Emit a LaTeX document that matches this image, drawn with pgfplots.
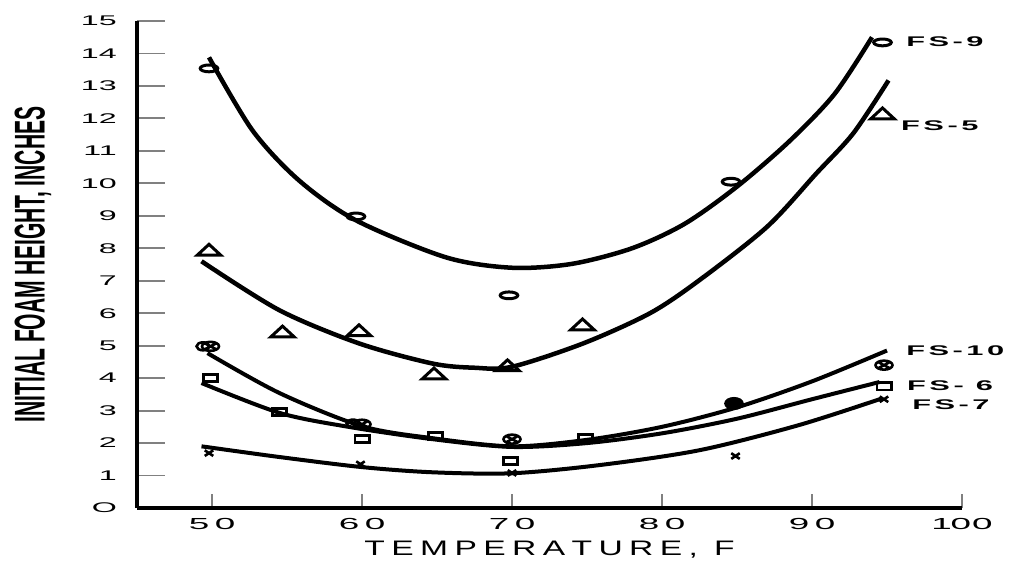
\documentclass[border=0pt]{standalone}
\usepackage{graphicx}
\usepackage{pgfplots}
\pgfplotsset{compat=1.18}
\usepackage{fontspec}
\setmainfont{Liberation Sans}
\usetikzlibrary{plotmarks}
\newcommand\g{\kern4pt}
\newcommand\tk{\kern2.4pt}
\newcommand\fk{\kern1.6pt}
\newcommand\xt[1]{\scalebox{2.3}[1]{\fontsize{16}{16}\selectfont #1}}
\newcommand\yt[1]{\scalebox{2.3}[1]{\fontsize{14}{14}\selectfont #1}}
\newcommand\fs[1]{\scalebox{2.2}[1]{\fontsize{14}{14}\selectfont\bfseries #1}}
\begin{document}
\begin{tikzpicture}
\useasboundingbox (-137pt,-52pt) rectangle (872pt,508pt);
\begin{axis}[
  at={(0,0)}, anchor=south west,
  scale only axis, width=825pt, height=487pt,
  xmin=45, xmax=100, ymin=0, ymax=15,
  axis lines*=left,
  axis line style={-, line width=3.2pt},
  xtick={50,60,70,80,90,100},
  xticklabels={\xt{5\tk0},\xt{6\tk0},\xt{7\tk0},\xt{8\tk0},\xt{9\tk0},\xt{1\kern-0.5pt 0\kern0.5pt 0}},
  ytick={0,1,...,15},
  yticklabels={\yt{O},\yt{1},\yt{2},\yt{3},\yt{4},\yt{5},\yt{6},\yt{7},\yt{8},\yt{9},\yt{10},\yt{11},\yt{12},\yt{13},\yt{14},\yt{15}},
  tick align=inside,
  major tick length=28pt,
  xtick style={line width=1.8pt, /pgfplots/major tick length=14pt},
  ytick style={line width=1.8pt},
  xticklabel style={inner sep=0pt, anchor=north, yshift=-10pt},
  yticklabel style={inner sep=0pt, anchor=east, xshift=-20pt},
  xlabel={\scalebox{1.6}[1]{\fontsize{21}{21}\selectfont T\g E\g M\g P\g E\g R\g A\g T\g U\g R\g E\g,\hspace{10pt}F}},
  ylabel={\scalebox{0.49}[1]{\fontsize{43}{43}\selectfont\bfseries INITIAL FOAM HEIGHT, INCHES}},
  xlabel style={at={(axis description cs:0.5,-0.0862)}, anchor=center, inner sep=0pt},
  ylabel style={at={(axis description cs:-0.126,0.5)}, anchor=center, inner sep=0pt},
  clip=false,
]
% ---- fitted curves ----
% FS-9
\addplot[line width=4.5pt, smooth, no marks] coordinates {
 (49.8,13.88) (52.7,11.63) (55.8,10.09) (59.6,8.86) (65.6,7.72) (70,7.4)
 (74,7.52) (78,8.0) (81.5,8.75) (85,9.9) (88.5,11.3) (91.5,12.75) (94,14.5)};
% FS-5
\addplot[line width=4.5pt, smooth, no marks] coordinates {
 (49.3,7.6) (54.5,6.09) (59.8,5.07) (64.7,4.45) (67.5,4.32) (70,4.35)
 (74.75,5.07) (79.2,6.0) (82.5,7.02) (87,8.66) (90.3,10.31) (92.75,11.54) (95.1,13.17)};
% FS-10
\addplot[line width=4pt, smooth, no marks] coordinates {
 (49.7,4.77) (54.5,3.54) (60,2.52) (64.7,2.15) (70,1.9) (75,2.1)
 (80,2.5) (85,3.1) (90,3.9) (95,4.85)};
% FS-6
\addplot[line width=4pt, smooth, no marks] coordinates {
 (49.3,3.85) (54.5,2.93) (59.1,2.5) (64.7,2.12) (70,1.88) (75,2.0)
 (80,2.3) (85,2.75) (90,3.35) (94.5,3.88)};
% FS-7
\addplot[line width=4pt, smooth, no marks] coordinates {
 (49.3,1.9) (54.5,1.57) (60,1.26) (64.7,1.1) (70,1.07) (75.8,1.32)
 (82.5,1.78) (89.1,2.55) (94.7,3.38)};
% ---- data points ----
% FS-9 circles
\addplot[only marks, mark=o, mark size=4pt, mark options={xscale=2.2, yscale=0.85, line width=3pt, fill=white}] coordinates {
 (49.8,13.54) (59.6,8.98) (69.8,6.55) (84.6,10.05) (94.7,14.34)};
% FS-5 triangles
\addplot[only marks, mark=triangle, mark size=9pt, mark options={xscale=1.5, yscale=0.8, line width=3pt}] coordinates {
 (49.8,7.9) (54.7,5.38) (59.8,5.42) (64.8,4.09) (69.7,4.34) (74.7,5.6) (94.7,12.1)};
% FS-10 crossed circles
\addplot[only marks, mark=o, mark size=4pt, mark options={xscale=1.6, line width=2.6pt}] coordinates {
 (49.4,4.98) (59.4,2.6)};
\addplot[only marks, mark=otimes, mark size=5pt, mark options={xscale=1.7, yscale=0.9, line width=2.6pt}] coordinates {
 (49.9,4.98) (60,2.58) (70,2.12) (94.8,4.4)};
\addplot[only marks, mark=*, mark size=5.5pt, mark options={xscale=1.6, fill=black, line width=2pt}] coordinates {
 (84.8,3.22)};
% FS-6 squares
\addplot[only marks, mark=square, mark size=4pt, mark options={xscale=1.8, yscale=0.9, line width=2.6pt}] coordinates {
 (49.9,4.0) (54.5,2.96) (60,2.12) (64.9,2.22) (69.9,1.45) (74.9,2.15) (94.8,3.75)};
% FS-7 crosses
\addplot[only marks, mark=x, mark size=4pt, mark options={xscale=1.5, line width=2.6pt}] coordinates {
 (49.8,1.69) (59.9,1.35) (70,1.08) (84.9,1.6) (94.8,3.35)};
% ---- series labels ----
\node[anchor=west, inner sep=0pt] at (axis cs:96.27,14.37) {\fs{F\fk S\fk-\fk9}};
\node[anchor=west, inner sep=0pt] at (axis cs:95.93,11.78) {\fs{F\fk S\fk-\fk5}};
\node[anchor=west, inner sep=0pt] at (axis cs:96.27,4.86) {\fs{F\fk S\fk-\fk1\fk0}};
\node[anchor=west, inner sep=0pt] at (axis cs:96.33,3.78) {\fs{F\fk S\fk-\fk\ 6}};
\node[anchor=west, inner sep=0pt] at (axis cs:96.67,3.17) {\fs{F\fk S\fk-\fk7}};
\end{axis}
\end{tikzpicture}
\end{document}
